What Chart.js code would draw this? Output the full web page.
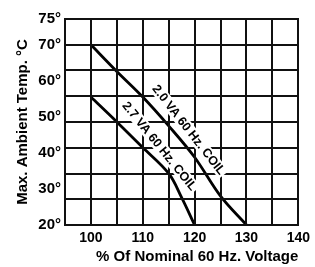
<!DOCTYPE html>
<html>
<head>
<meta charset="utf-8">
<script src="https://cdn.jsdelivr.net/npm/chart.js@4.4.1/dist/chart.umd.min.js"></script>
<style>
  html, body { margin: 0; padding: 0; background: #fff; }
  canvas { display: block; }
</style>
</head>
<body>
<canvas id="coilChart" width="315" height="267"></canvas>
<script>
/* ---------- data ---------- */
const voltage20 = [100, 105, 110, 115, 120, 125, 130];
const temp20    = [70, 62.6, 55.5, 47.5, 38.8, 28, 20];

const voltage27 = [100, 105, 110, 115, 117.5, 120];
const temp27    = [55.5, 48.6, 41.5, 34.3, 27.6, 20];

const xTickValues = [100, 110, 120, 130, 140];
const yTickValues = [20, 30, 40, 50, 60, 70];
const yTopLabel   = "75°";

const curveNames = ["2.0 VA 60 Hz. COIL", "2.7 VA 60 Hz. COIL"];

/* ---------- axis set-up ---------- */
const X_MIN = 95, X_MAX = 140, X_STEP = 5;
const ROW = 50 / 7;               // grid rows are evenly spaced, 7 rows from 20 to 70
const Y_MIN = 20, Y_MAX = 20 + 8 * ROW;
const gridRows = Array.from({ length: 9 }, (_, i) => Y_MIN + i * ROW);
const gridCols = Array.from({ length: 10 }, (_, i) => X_MIN + i * X_STEP);

const near = (a, b) => Math.abs(a - b) < 1e-6;

const FONT = "'Liberation Sans', Arial, Helvetica, sans-serif";
const LINE = "#111";
const CLEAR = "rgba(0,0,0,0)";

/* square grid + curve captions, laid out through the chart's scales */
const gridAndCaptions = {
    id: "gridAndCaptions",
    afterDraw(chart) {
        const ctx = chart.ctx;
        const xs = chart.scales.x, ys = chart.scales.y;
        const { left, right, top, bottom } = chart.chartArea;
        const L = Math.round(left), R = Math.round(right);
        const T = Math.round(top), B = Math.round(bottom);

        ctx.save();
        ctx.globalCompositeOperation = "source-over";
        ctx.globalAlpha = 1;
        ctx.setLineDash([]);
        ctx.fillStyle = LINE;
        gridCols.forEach(v => {
            const px = Math.round(xs.getPixelForValue(v));
            ctx.fillRect(px - 1, T - 1, 2, B - T + 2);
        });
        gridRows.forEach(v => {
            const py = Math.round(ys.getPixelForValue(v));
            ctx.fillRect(L - 1, py - 1, R - L + 2, 2);
        });
        ctx.restore();

        const spots = [
            { series: [voltage20, temp20], at: 116.9, gap: 13, angle: 52 },
            { series: [voltage27, temp27], at: 111.3, gap: 13, angle: 51 }
        ];
        spots.forEach((s, i) => {
            const [vx, vy] = s.series;
            let y = vy[0];
            for (let k = 0; k < vx.length - 1; k++) {
                if (s.at >= vx[k] && s.at <= vx[k + 1]) {
                    const t = (s.at - vx[k]) / (vx[k + 1] - vx[k]);
                    y = vy[k] + t * (vy[k + 1] - vy[k]);
                }
            }
            const a = s.angle * Math.PI / 180;
            const px = xs.getPixelForValue(s.at) + Math.sin(a) * s.gap;
            const py = ys.getPixelForValue(y) - Math.cos(a) * s.gap;

            ctx.save();
            ctx.translate(px, py);
            ctx.rotate(a);
            ctx.font = "bold 12.5px " + FONT;
            ctx.textAlign = "center";
            ctx.textBaseline = "middle";
            const w = ctx.measureText(curveNames[i]).width;
            ctx.fillStyle = "#fff";
            ctx.fillRect(-w / 2 - 2, -6.5, w + 4, 13);
            ctx.fillStyle = "#000";
            ctx.fillText(curveNames[i], 0, 0.5);
            ctx.restore();
        });
    }
};

new Chart(document.getElementById("coilChart"), {
    type: "line",
    data: {
        datasets: [
            {
                label: curveNames[0],
                data: voltage20.map((v, i) => ({ x: v, y: temp20[i] })),
                borderColor: "#000",
                borderWidth: 2.8,
                pointRadius: 0,
                tension: 0.35,
                fill: false
            },
            {
                label: curveNames[1],
                data: voltage27.map((v, i) => ({ x: v, y: temp27[i] })),
                borderColor: "#000",
                borderWidth: 2.8,
                pointRadius: 0,
                tension: 0.35,
                fill: false
            }
        ]
    },
    options: {
        responsive: false,
        animation: false,
        devicePixelRatio: 1,
        layout: { padding: { top: 19, right: 16, left: 0, bottom: 0 } },
        plugins: {
            legend: { display: false },
            tooltip: { enabled: false }
        },
        scales: {
            x: {
                type: "linear",
                min: X_MIN,
                max: X_MAX,
                afterFit: s => { s.height = 42; },
                border: { display: false },
                grid: { display: false, drawTicks: false },
                ticks: {
                    stepSize: X_STEP,
                    autoSkip: false,
                    maxRotation: 0,
                    padding: 5,
                    color: c => (c.tick && xTickValues.includes(c.tick.value)) ? "#000" : CLEAR,
                    font: { family: FONT, size: 14, weight: "bold" },
                    callback: v => String(v)
                },
                title: {
                    display: true,
                    text: "% Of Nominal 60 Hz. Voltage",
                    align: "end",
                    color: "#000",
                    font: { family: FONT, size: 15, weight: "bold" },
                    padding: { top: 0, bottom: 1 }
                }
            },
            y: {
                type: "linear",
                min: Y_MIN,
                max: Y_MAX,
                afterFit: s => { s.width = 65; },
                afterBuildTicks: s => {
                    s.ticks = yTickValues.concat([Y_MAX]).map(v => ({ value: v }));
                },
                border: { display: false },
                grid: { display: false, drawTicks: false },
                ticks: {
                    autoSkip: false,
                    padding: 4,
                    color: "#000",
                    font: { family: FONT, size: 15, weight: "bold" },
                    callback: v => {
                        if (near(v, Y_MAX)) return yTopLabel;
                        const hit = yTickValues.find(t => near(t, v));
                        return (hit !== undefined ? hit : Math.round(v)) + "°";
                    }
                },
                title: {
                    display: true,
                    text: "Max. Ambient Temp. °C",
                    color: "#000",
                    font: { family: FONT, size: 15, weight: "bold" },
                    padding: { top: 14, bottom: 0 }
                }
            }
        }
    },
    plugins: [gridAndCaptions]
});
</script>
</body>
</html>
